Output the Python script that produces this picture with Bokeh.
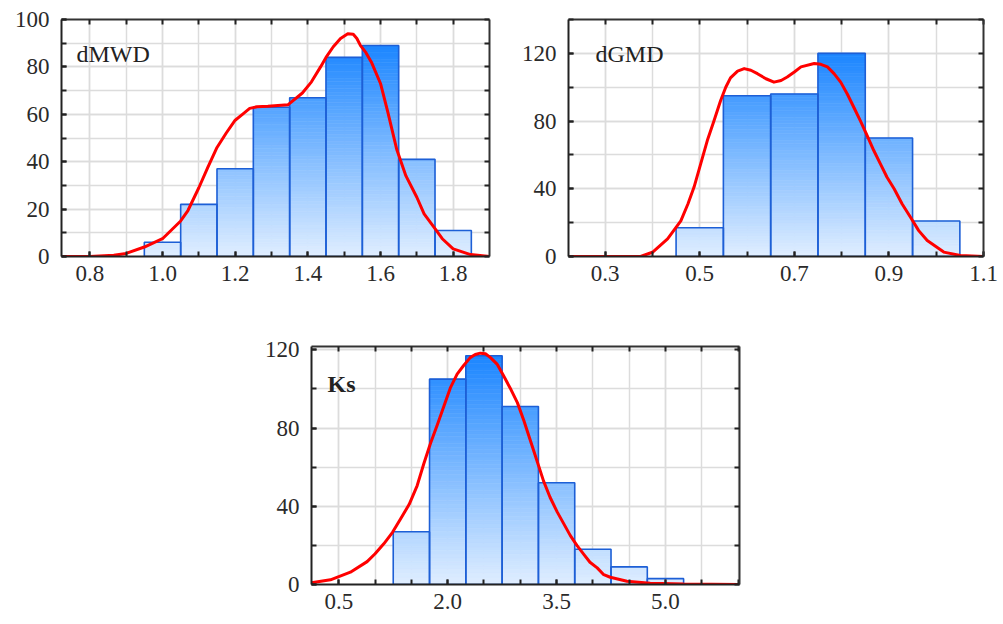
import numpy as np
from bokeh.plotting import figure
from bokeh.layouts import column, row, Spacer
from bokeh.models import FixedTicker, LinearAxis, Label, Range1d, PrintfTickFormatter
from bokeh.embed import file_html
from bokeh.resources import INLINE

# ---------------- data ----------------
mwd_centers = [1.0, 1.1, 1.2, 1.3, 1.4, 1.5, 1.6, 1.7, 1.8]
mwd_counts = [6, 22, 37, 63, 67, 84, 89, 41, 11]
mwd_bin_width = 0.1
mwd_curve_x = [0.722, 0.80, 0.866, 0.90, 0.95, 1.0, 1.05, 1.07, 1.1, 1.125, 1.15, 1.175,
               1.2, 1.22, 1.24, 1.26, 1.29, 1.345, 1.385, 1.41, 1.435, 1.45, 1.47, 1.49,
               1.51, 1.525, 1.535, 1.545, 1.56, 1.575, 1.6, 1.62, 1.645, 1.67, 1.7,
               1.72, 1.747, 1.77, 1.8, 1.848, 1.9]
mwd_curve_y = [0, 0, 0.5, 1.3, 4, 7.5, 15, 19.4, 29, 37.7, 46, 52,
               57.5, 60, 62.5, 63.2, 63.4, 64, 69, 73.7, 80, 84, 88.5, 92,
               94, 93.8, 92, 89, 86, 82, 73, 61, 45, 34, 25,
               18, 12.4, 7.5, 3.2, 0.8, 0]
mwd_x_major = [0.8, 1.0, 1.2, 1.4, 1.6, 1.8]
mwd_x_minor = [0.8, 0.9, 1.0, 1.1, 1.2, 1.3, 1.4, 1.5, 1.6, 1.7, 1.8]
mwd_y_major = [0, 20, 40, 60, 80, 100]
mwd_y_minor = [0, 10, 20, 30, 40, 50, 60, 70, 80, 90, 100]

gmd_centers = [0.5, 0.6, 0.7, 0.8, 0.9, 1.0]
gmd_counts = [17, 95, 96, 120, 70, 21]
gmd_bin_width = 0.1
gmd_curve_x = [0.2225, 0.375, 0.40, 0.432, 0.46, 0.475, 0.488, 0.502, 0.516, 0.53, 0.544,
               0.555, 0.565, 0.58, 0.594, 0.608, 0.622, 0.64, 0.657, 0.672, 0.685, 0.70,
               0.714, 0.742, 0.756, 0.77, 0.784, 0.798, 0.812, 0.826, 0.84, 0.854, 0.868,
               0.882, 0.896, 0.911, 0.928, 0.946, 0.963, 0.981, 1.016, 1.051, 1.1]
gmd_curve_y = [0, 0, 2.5, 10.4, 21, 31, 41, 54.7, 68.5, 80, 92,
               100, 105.5, 109.5, 111, 110, 108, 105, 103, 104, 106, 109,
               112, 114, 113.5, 112, 108, 103, 96, 88, 80, 71.4, 62.6,
               54.7, 46.8, 40, 31, 23, 15.3, 9.4, 2.6, 0.6, 0]
gmd_x_major = [0.3, 0.5, 0.7, 0.9, 1.1]
gmd_x_minor = [0.3, 0.4, 0.5, 0.6, 0.7, 0.8, 0.9, 1.0, 1.1]
gmd_y_major = [0, 40, 80, 120]
gmd_y_minor = [0, 20, 40, 60, 80, 100, 120, 140]

ks_centers = [1.5, 2.0, 2.5, 3.0, 3.5, 4.0, 4.5, 5.0]
ks_counts = [27, 105, 117, 91, 52, 18, 9, 3]
ks_bin_width = 0.5
ks_curve_x = [0.124, 0.385, 0.66, 0.89, 1.0, 1.12, 1.24, 1.35, 1.47, 1.58, 1.67, 1.76,
              1.86, 1.95, 2.04, 2.13, 2.22, 2.31, 2.38, 2.45, 2.52, 2.59, 2.68, 2.77,
              2.86, 2.96, 3.05, 3.14, 3.23, 3.32, 3.41, 3.51, 3.6, 3.69, 3.78, 3.87,
              3.96, 4.06, 4.15, 4.24, 4.47, 4.79, 5.25, 6.02]
ks_curve_y = [0.9, 2.4, 6.3, 11.7, 15.7, 20.8, 26.7, 33.5, 41, 50.6, 61.6, 71.8,
              82, 91.4, 100.8, 107.6, 112, 116, 117.6, 118.3, 118, 116, 112.7, 106.7,
              100.5, 93, 83.7, 73.5, 63.3, 53, 44.6, 37, 31, 25, 20, 15.7,
              11.4, 8.5, 5, 3.7, 1.7, 0.7, 0.2, 0]
ks_x_major = [0.5, 2.0, 3.5, 5.0]
ks_x_minor = [0.5, 1.0, 1.5, 2.0, 2.5, 3.0, 3.5, 4.0, 4.5, 5.0, 5.5, 6.0]
ks_y_major = [0, 40, 80, 120]
ks_y_minor = [0, 20, 40, 60, 80, 100, 120]

FONT = "Liberation Serif"
LIGHT = np.array([224, 238, 255])
DARK = np.array([28, 134, 255])


def make_panel(centers, counts, bw, cx, cy, xr, yr, xmaj, xmin, ymaj, ymin,
               title, title_bold, width, height, bl, br, bt, bb, label_x, label_y):
    p = figure(width=width, height=height, output_backend="svg", toolbar_location=None,
               x_range=Range1d(*xr), y_range=Range1d(*yr),
               min_border_left=bl, min_border_right=br, min_border_top=bt,
               min_border_bottom=bb)
    p.outline_line_color = None
    p.background_fill_color = "white"
    p.border_fill_color = "white"

    xt = FixedTicker(ticks=xmaj, minor_ticks=xmin)
    yt = FixedTicker(ticks=ymaj, minor_ticks=ymin)

    for ax in p.xaxis:
        ax.ticker = xt
        ax.formatter = PrintfTickFormatter(format="%.1f")
    for ax in p.yaxis:
        ax.ticker = yt
        ax.formatter = PrintfTickFormatter(format="%d")

    for g, t in ((p.xgrid, xt), (p.ygrid, yt)):
        g.ticker = t
        g.grid_line_color = "#dcdcdc"
        g.grid_line_width = 1.5
        g.minor_grid_line_color = "#dcdcdc"
        g.minor_grid_line_width = 1.5

    # frame axes on top / right: only (label-less) minor ticks, pointing inward
    top = LinearAxis(ticker=FixedTicker(ticks=[], minor_ticks=xmin))
    right = LinearAxis(ticker=FixedTicker(ticks=[], minor_ticks=ymin))
    p.add_layout(top, "above")
    p.add_layout(right, "right")
    for ax in [top, right]:
        ax.major_label_standoff = 0
        ax.axis_line_color = "#333333"

    for ax in list(p.xaxis) + list(p.yaxis):
        ax.axis_line_width = 2
        ax.major_tick_in = 5
        ax.major_tick_out = 0
        ax.minor_tick_in = 5
        ax.minor_tick_out = 0
        ax.major_tick_line_color = "#222222"
        ax.minor_tick_line_color = "#222222"
        ax.major_tick_line_width = 2
        ax.minor_tick_line_width = 2
    for ax in [p.below[0], p.left[0]]:
        ax.axis_line_color = "#222222"
        ax.major_label_text_font = FONT
        ax.major_label_text_font_size = "23px"
        ax.major_label_text_color = "#2a2a2a"
    p.below[0].major_label_standoff = 9
    p.left[0].major_label_standoff = 12

    # gradient bars built from horizontal slices
    vmax = max(counts)
    nsl = 60
    L, R, B, T, C = [], [], [], [], []
    for c, h in zip(centers, counts):
        edges = np.linspace(0, h, max(2, int(nsl * h / vmax) + 2))
        for y0, y1 in zip(edges[:-1], edges[1:]):
            t = (0.5 * (y0 + y1)) / vmax
            col = LIGHT + (DARK - LIGHT) * t
            L.append(c - bw / 2)
            R.append(c + bw / 2)
            B.append(y0)
            T.append(y1)
            C.append("#%02x%02x%02x" % tuple(int(round(v)) for v in col))
    p.quad(left=L, right=R, bottom=B, top=T, fill_color=C, line_color=C, line_width=0.6)
    p.quad(left=[c - bw / 2 for c in centers], right=[c + bw / 2 for c in centers],
           bottom=[0] * len(counts), top=counts, fill_color=None,
           line_color="#1d5fd6", line_width=1.6)

    p.line(cx, cy, line_color="#ff0000", line_width=3, line_join="round")

    p.add_layout(Label(x=label_x, y=label_y, x_units="screen", y_units="screen",
                       text=title, text_font=FONT, text_font_size="24px",
                       text_font_style="bold" if title_bold else "normal",
                       text_color="#222222", text_baseline="alphabetic"))
    return p


p1 = make_panel(mwd_centers, mwd_counts, mwd_bin_width, mwd_curve_x, mwd_curve_y,
                (0.722, 1.9), (0, 100), mwd_x_major, mwd_x_minor, mwd_y_major, mwd_y_minor,
                "dMWD", False, 500, 296, 61, 11, 19, 40, 15, 203)
p2 = make_panel(gmd_centers, gmd_counts, gmd_bin_width, gmd_curve_x, gmd_curve_y,
                (0.2225, 1.1), (0, 140), gmd_x_major, gmd_x_minor, gmd_y_major, gmd_y_minor,
                "dGMD", False, 503, 296, 68, 20, 19, 40, 27, 203)
p3 = make_panel(ks_centers, ks_counts, ks_bin_width, ks_curve_x, ks_curve_y,
                (0.124, 6.02), (0, 121.7), ks_x_major, ks_x_minor, ks_y_major, ks_y_minor,
                "Ks", True, 500, 328, 61, 11, 50, 40, 16, 201)

layout = column(row(p1, p2), row(Spacer(width=250, height=328), p3))

with open("out.html", "w") as f:
    f.write(file_html(layout, INLINE))
